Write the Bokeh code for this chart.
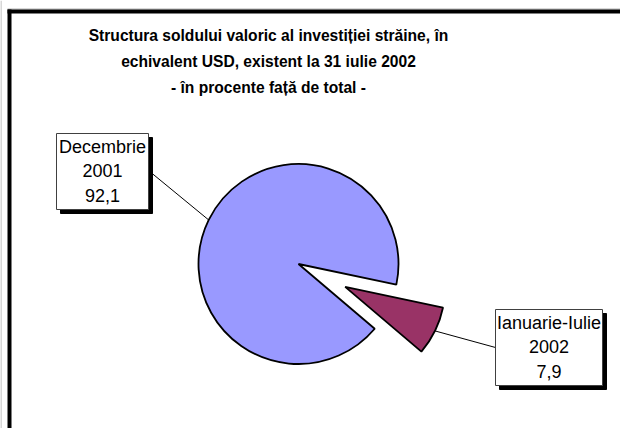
import math
from bokeh.plotting import figure
from bokeh.models import Range1d, ColumnDataSource
from bokeh.core.properties import value
from bokeh.embed import file_html
from bokeh.resources import INLINE

# ---- data ----
title_lines = [
    "Structura soldului valoric al investiției străine, în",
    "echivalent USD, existent la 31 iulie 2002",
    "- în procente față de total -",
]
categories = ["Decembrie\n2001", "Ianuarie-Iulie\n2002"]
values = [92.1, 7.9]
value_labels = ["92,1", "7,9"]
colors = ["#9999FF", "#993366"]

# ---- layout (picture pixel coordinates) ----
W, H = 620, 428


def Y(y):
    return H - y


pie_cx, pie_cy, pie_r = 298, 263.5, 100
start_deg = -11.9
explode = [0, 52]
boxes = [  # (left, top, right, bottom)
    (56, 133, 148, 209),
    (495, 309, 602, 385),
]
box_anchor = [(148, 170), (495, 347)]
shadow = 4

p = figure(width=W, height=H, x_range=Range1d(0, W), y_range=Range1d(0, H),
           output_backend="svg", toolbar_location=None, min_border=0)
p.axis.visible = False
p.grid.visible = False
p.outline_line_color = None
p.background_fill_color = "white"
p.border_fill_color = "white"

# frame
p.segment(x0=[0.5, 7], y0=[Y(0), Y(8.5)], x1=[0.5, W + 10], y1=[Y(H + 10), Y(8.5)],
          line_color="#b0b0b0", line_width=1)
p.segment(x0=[9, 7], y0=[Y(9), Y(11)], x1=[9, W + 10], y1=[Y(H + 10), Y(11)],
          line_color="black", line_width=4)

# title
p.text(x=[268], y=[Y(61)], text=["\n".join(title_lines)],
       text_font=value("Liberation Sans"), text_font_style="bold", text_font_size="15.6px",
       text_align="center", text_baseline="middle", text_line_height=1.54, text_color="black")

# pie
total = sum(values)
cur = math.radians(start_deg)
xs, ys, a0s, a1s, mids = [], [], [], [], []
for v, e in zip(values, explode):
    a0 = cur
    a1 = cur + v / total * 2 * math.pi
    mid = (a0 + a1) / 2
    cur = a1
    xs.append(pie_cx + e * math.cos(mid))
    ys.append(Y(pie_cy) + e * math.sin(mid))
    a0s.append(a0)
    a1s.append(a1)
    mids.append(mid)

src = ColumnDataSource(dict(x=xs, y=ys, a0=a0s, a1=a1s, color=colors))

# leader lines
lx0, ly0, lx1, ly1 = [], [], [], []
for x, y, m, (ax, ay) in zip(xs, ys, mids, box_anchor):
    lx0.append(x + pie_r * math.cos(m))
    ly0.append(y + pie_r * math.sin(m))
    lx1.append(ax)
    ly1.append(Y(ay))
p.segment(x0=lx0, y0=ly0, x1=lx1, y1=ly1, line_color="black", line_width=1)

p.wedge(x="x", y="y", radius=pie_r, start_angle="a0", end_angle="a1", source=src,
        fill_color="color", line_color="black", line_width=1.8)

# label boxes with drop shadow
bsrc = ColumnDataSource(dict(
    sl=[b[0] + shadow for b in boxes], sr=[b[2] + shadow for b in boxes],
    st=[Y(b[1] + shadow) for b in boxes], sb=[Y(b[3] + shadow) for b in boxes],
    l=[b[0] for b in boxes], r=[b[2] for b in boxes],
    t=[Y(b[1]) for b in boxes], b=[Y(b[3]) for b in boxes],
))
p.quad(left="sl", right="sr", top="st", bottom="sb", source=bsrc,
       fill_color="black", fill_alpha=1.0, line_color="black", line_width=1)
p.quad(left="l", right="r", top="t", bottom="b", source=bsrc,
       fill_color="white", fill_alpha=1.0, line_color="#404040", line_width=1)

label_text = [c + "\n" + vl for c, vl in zip(categories, value_labels)]
p.text(x=[(b[0] + b[2]) / 2 for b in boxes], y=[Y((b[1] + b[3]) / 2) for b in boxes],
       text=label_text, text_font=value("Liberation Sans"), text_font_size="18px",
       text_align="center", text_baseline="middle", text_line_height=1.22, text_color="black")

open("out.html", "w").write(file_html(p, INLINE))
